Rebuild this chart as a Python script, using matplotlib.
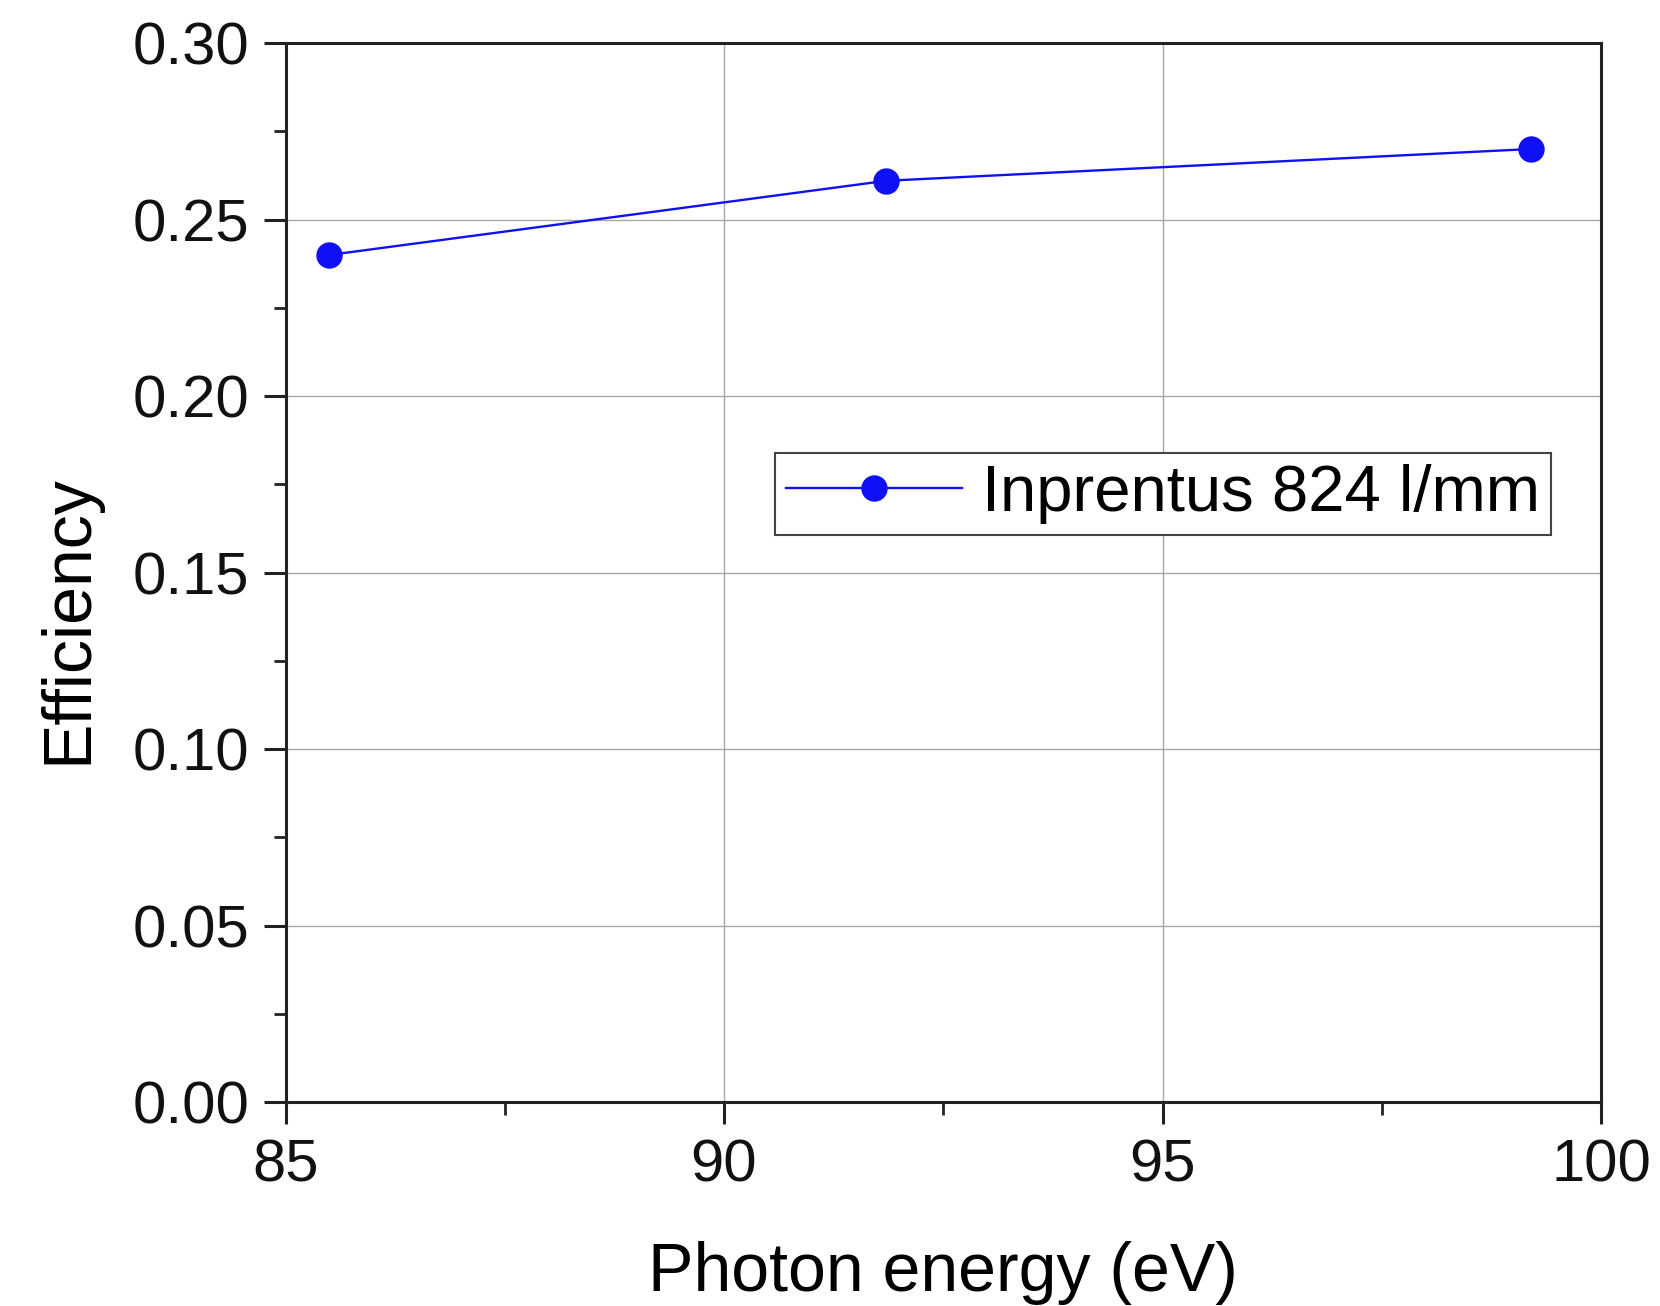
import matplotlib.pyplot as plt
from matplotlib.ticker import MultipleLocator

plt.rcParams['font.family'] = ['Liberation Sans', 'DejaVu Sans']

# data
energy = [85.5, 91.85, 99.2]
efficiency = [0.240, 0.261, 0.270]
series_label = 'Inprentus 824 l/mm'

fig = plt.figure(figsize=(16.6, 13.06), dpi=100)
ax = fig.add_axes([0.172, 0.156, 0.7925, 0.811])

ax.plot(energy, efficiency, '-', color='#1010f5', lw=1.7, marker='o',
        markersize=18, label=series_label, zorder=3)

ax.set_xlim(85, 100)
ax.set_ylim(0, 0.30)
ax.xaxis.set_major_locator(MultipleLocator(5))
ax.xaxis.set_minor_locator(MultipleLocator(2.5))
ax.yaxis.set_major_locator(MultipleLocator(0.05))
ax.yaxis.set_minor_locator(MultipleLocator(0.025))
ax.yaxis.set_major_formatter(plt.FormatStrFormatter('%.2f'))

ax.grid(True, which='major', color='#a8a8a8', lw=1.0)
ax.set_axisbelow(True)

for s in ax.spines.values():
    s.set_linewidth(2.2)
    s.set_color('#222222')

ax.tick_params(which='major', direction='out', length=16, width=2.2,
               labelsize=43, pad=10, colors='#222222', labelcolor='#111111')
ax.tick_params(which='minor', direction='out', length=9, width=2.0,
               colors='#222222')

ax.set_xlabel('Photon energy (eV)', fontsize=49)
ax.set_ylabel('Efficiency', fontsize=49)
ax.xaxis.set_label_coords(0.5, -0.131)
ax.yaxis.set_label_coords(-0.141, 0.456)

leg = ax.legend(loc='upper right', bbox_to_anchor=(0.962, 0.613),
                borderaxespad=0, fontsize=47, fancybox=False,
                framealpha=1, edgecolor='#444444', handlelength=2.7,
                borderpad=0.17, handletextpad=0.3)
leg.get_frame().set_linewidth(1.5)

plt.savefig('out.png', dpi=100)
